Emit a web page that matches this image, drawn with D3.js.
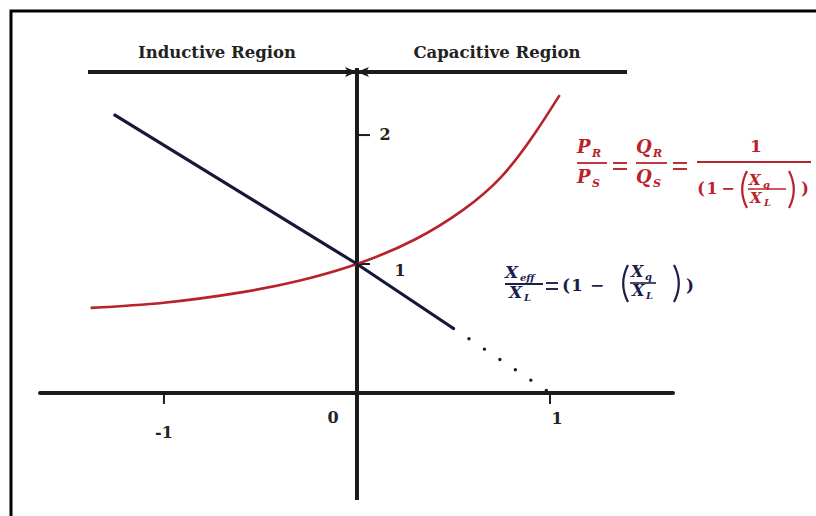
<!DOCTYPE html>
<html>
<head>
<meta charset="utf-8">
<script src="https://cdn.jsdelivr.net/npm/d3@7"></script>
<style>
  html, body { margin: 0; padding: 0; background: #fff; }
  svg { display: block; }
  text { font-family: "DejaVu Serif", "Liberation Serif", serif; }
</style>
</head>
<body>
<svg id="chart" width="816" height="516"></svg>
<script>
// Tick values and their labels
const xTicks = [-1, 0, 1];
const xTickLabels = ["-1", "0", "1"];
const yTicks = [1, 2];
const yTickLabels = ["1", "2"];

// Effective reactance ratio Xeff/XL (solid part)
const effX = [-1.26, 0, 0.5];
const effY = [2.16, 1, 0.5];
// Continuation of Xeff/XL (dotted part)
const effDotX = [0.5, 1.0];
const effDotY = [0.5, 0.0];

// Power ratio PR/PS = QR/QS
const powX = [-1.38, -1.0, -0.6, -0.3, 0, 0.3, 0.55, 0.75, 0.92, 1.05];
const powY = [0.66, 0.70, 0.78, 0.87, 1.0, 1.19, 1.42, 1.68, 2.01, 2.31];

// Region labels
const regionLabels = ["Inductive Region", "Capacitive Region"];

const RED = "#b8232b";
const NAVY = "#17173a";
const INK = "#1b1b1b";

const svg = d3.select("#chart");

const x = d3.scaleLinear().domain([-1.642, 1.637]).range([40, 673]);
const y = d3.scaleLinear().domain([-0.83, 2.52]).range([500, 68]);

// Frame (top and left edges)
svg.append("path")
  .attr("d", "M11,516 L11,11 L816,11")
  .attr("fill", "none").attr("stroke", "#000").attr("stroke-width", 3);

// Axes
svg.append("line")
  .attr("x1", x(-1.642)).attr("x2", x(1.637))
  .attr("y1", y(0)).attr("y2", y(0))
  .attr("stroke", INK).attr("stroke-width", 4).attr("stroke-linecap", "round");
svg.append("line")
  .attr("x1", x(0)).attr("x2", x(0))
  .attr("y1", y(2.52)).attr("y2", y(-0.83))
  .attr("stroke", INK).attr("stroke-width", 4);

// x ticks
svg.selectAll(".xtick").data(xTicks.filter(d => d !== 0)).enter().append("line")
  .attr("x1", d => x(d)).attr("x2", d => x(d))
  .attr("y1", y(0)).attr("y2", y(0) + 11)
  .attr("stroke", INK).attr("stroke-width", 2);
const xLabelOffset = { "-1": [0, 45], "0": [-24, 30], "1": [7, 31] };
svg.selectAll(".xlabel").data(xTicks).enter().append("text")
  .attr("x", d => x(d) + xLabelOffset[String(d)][0])
  .attr("y", d => y(0) + xLabelOffset[String(d)][1])
  .attr("text-anchor", "middle")
  .attr("font-size", 16).attr("font-weight", "bold").attr("fill", "#222")
  .text((d, i) => xTickLabels[i]);

// y ticks
svg.selectAll(".ytick").data(yTicks).enter().append("line")
  .attr("x1", x(0)).attr("x2", x(0) + 13)
  .attr("y1", d => y(d)).attr("y2", d => y(d))
  .attr("stroke", INK).attr("stroke-width", 2);
const yLabelDx = { 1: 43, 2: 28 };
const yLabelDy = { 1: 12, 2: 5 };
svg.selectAll(".ylabel").data(yTicks).enter().append("text")
  .attr("x", d => x(0) + yLabelDx[d])
  .attr("y", d => y(d) + yLabelDy[d])
  .attr("text-anchor", "middle")
  .attr("font-size", 16).attr("font-weight", "bold").attr("fill", "#222")
  .text((d, i) => yTickLabels[i]);

// Region arrows
const defs = svg.append("defs");
defs.append("marker")
  .attr("id", "head").attr("viewBox", "0 0 12 12")
  .attr("refX", 11).attr("refY", 6)
  .attr("markerWidth", 12).attr("markerHeight", 12)
  .attr("markerUnits", "userSpaceOnUse")
  .attr("orient", "auto")
  .append("path").attr("d", "M0,1 L12,6 L0,11 L3,6 Z").attr("fill", INK);

const arrowY = 72;
svg.append("line")
  .attr("x1", 88).attr("x2", x(0) - 1).attr("y1", arrowY).attr("y2", arrowY)
  .attr("stroke", INK).attr("stroke-width", 4).attr("marker-end", "url(#head)");
svg.append("line")
  .attr("x1", 627).attr("x2", x(0) + 1).attr("y1", arrowY).attr("y2", arrowY)
  .attr("stroke", INK).attr("stroke-width", 4).attr("marker-end", "url(#head)");

svg.append("text").attr("x", 217).attr("y", 58).attr("text-anchor", "middle")
  .attr("font-size", 16.5).attr("font-weight", "bold").attr("fill", "#222")
  .text(regionLabels[0]);
svg.append("text").attr("x", 497).attr("y", 58).attr("text-anchor", "middle")
  .attr("font-size", 16.5).attr("font-weight", "bold").attr("fill", "#222")
  .text(regionLabels[1]);

// Curves
svg.append("path")
  .datum(powX.map((v, i) => [v, powY[i]]))
  .attr("d", d3.line().x(d => x(d[0])).y(d => y(d[1])).curve(d3.curveNatural))
  .attr("fill", "none").attr("stroke", RED).attr("stroke-width", 2.6);

svg.append("path")
  .datum(effX.map((v, i) => [v, effY[i]]))
  .attr("d", d3.line().x(d => x(d[0])).y(d => y(d[1])))
  .attr("fill", "none").attr("stroke", NAVY).attr("stroke-width", 3.2);

svg.append("path")
  .datum(effDotX.map((v, i) => [v, effDotY[i]]))
  .attr("d", d3.line().x(d => x(d[0])).y(d => y(d[1])))
  .attr("fill", "none").attr("stroke", NAVY).attr("stroke-width", 3.4)
  .attr("stroke-linecap", "round").attr("stroke-dasharray", "0 18.6");

// Equation helpers
function sym(g, xp, yp, str, opts = {}) {
  return g.append("text")
    .attr("x", xp).attr("y", yp)
    .attr("font-size", opts.size || 18)
    .attr("font-weight", opts.weight || "bold")
    .attr("font-style", opts.italic === false ? "normal" : "italic")
    .attr("text-anchor", opts.anchor || "start")
    .attr("fill", opts.color)
    .text(str);
}
function bar(g, x1, x2, yy, color, w) {
  g.append("line").attr("x1", x1).attr("x2", x2).attr("y1", yy).attr("y2", yy)
    .attr("stroke", color).attr("stroke-width", w || 1.8);
}
function equals(g, xc, yc, color, hw) {
  const h = hw || 7;
  bar(g, xc - h, xc + h, yc - 3, color, 1.9);
  bar(g, xc - h, xc + h, yc + 3, color, 1.9);
}
// tall parenthesis drawn as a curve; dir = 1 opens right "(", -1 opens left ")"
function paren(g, xp, top, bottom, dir, color) {
  const mid = (top + bottom) / 2;
  const w = 6;
  const x0 = dir > 0 ? xp + w : xp;
  const x1 = dir > 0 ? xp - w * 0.6 : xp + w * 1.6;
  g.append("path")
    .attr("d", `M${x0},${top} Q${x1},${mid} ${x0},${bottom}`)
    .attr("fill", "none").attr("stroke", color).attr("stroke-width", 2.2);
}

// PR/PS = QR/QS = 1/(1 - (Xq/XL))
const eq1 = svg.append("g");
const c1 = RED;
sym(eq1, 577, 153, "P", { color: c1 }); sym(eq1, 592, 157, "R", { color: c1, size: 11 });
bar(eq1, 577, 607, 163, c1);
sym(eq1, 577, 183, "P", { color: c1 }); sym(eq1, 592, 187, "S", { color: c1, size: 11 });
equals(eq1, 620, 166, c1, 7);
sym(eq1, 636, 153, "Q", { color: c1 }); sym(eq1, 653, 157, "R", { color: c1, size: 11 });
bar(eq1, 636, 667, 163, c1);
sym(eq1, 636, 183, "Q", { color: c1 }); sym(eq1, 653, 187, "S", { color: c1, size: 11 });
equals(eq1, 680, 166, c1, 7);
sym(eq1, 756, 152, "1", { color: c1, italic: false, anchor: "middle", size: 17 });
bar(eq1, 697, 811, 162, c1);
sym(eq1, 701, 194, "(", { color: c1, italic: false, size: 16, anchor: "middle" });
sym(eq1, 712, 194, "1", { color: c1, italic: false, size: 16, anchor: "middle" });
sym(eq1, 728, 194, "−", { color: c1, italic: false, size: 16, anchor: "middle" });
paren(eq1, 741, 171, 208, 1, c1);
sym(eq1, 749, 185, "X", { color: c1, size: 15 }); sym(eq1, 763, 188, "q", { color: c1, size: 10 });
bar(eq1, 748, 786, 189, c1, 1.5);
sym(eq1, 750, 203, "X", { color: c1, size: 15 }); sym(eq1, 764, 206, "L", { color: c1, size: 10 });
paren(eq1, 789, 171, 208, -1, c1);
sym(eq1, 805, 194, ")", { color: c1, italic: false, size: 16, anchor: "middle" });

// Xeff/XL = (1 - (Xq/XL))
const eq2 = svg.append("g");
const c2 = "#1d1d4a";
sym(eq2, 505, 278, "X", { color: c2, size: 17 }); sym(eq2, 520, 281, "eff", { color: c2, size: 10 });
bar(eq2, 505, 543, 284, c2);
sym(eq2, 509, 298, "X", { color: c2, size: 17 }); sym(eq2, 524, 301, "L", { color: c2, size: 10 });
equals(eq2, 552, 286, c2, 6);
sym(eq2, 566, 291, "(", { color: c2, italic: false, size: 17, anchor: "middle" });
sym(eq2, 577, 291, "1", { color: c2, italic: false, size: 17, anchor: "middle" });
sym(eq2, 597, 291, "−", { color: c2, italic: false, size: 17, anchor: "middle" });
paren(eq2, 622, 265, 302, 1, c2);
sym(eq2, 631, 277, "X", { color: c2, size: 16 }); sym(eq2, 645, 280, "q", { color: c2, size: 10 });
bar(eq2, 630, 656, 283, c2, 1.6);
sym(eq2, 632, 296, "X", { color: c2, size: 16 }); sym(eq2, 646, 299, "L", { color: c2, size: 10 });
paren(eq2, 674, 265, 302, -1, c2);
sym(eq2, 690, 291, ")", { color: c2, italic: false, size: 17, anchor: "middle" });
</script>
</body>
</html>
